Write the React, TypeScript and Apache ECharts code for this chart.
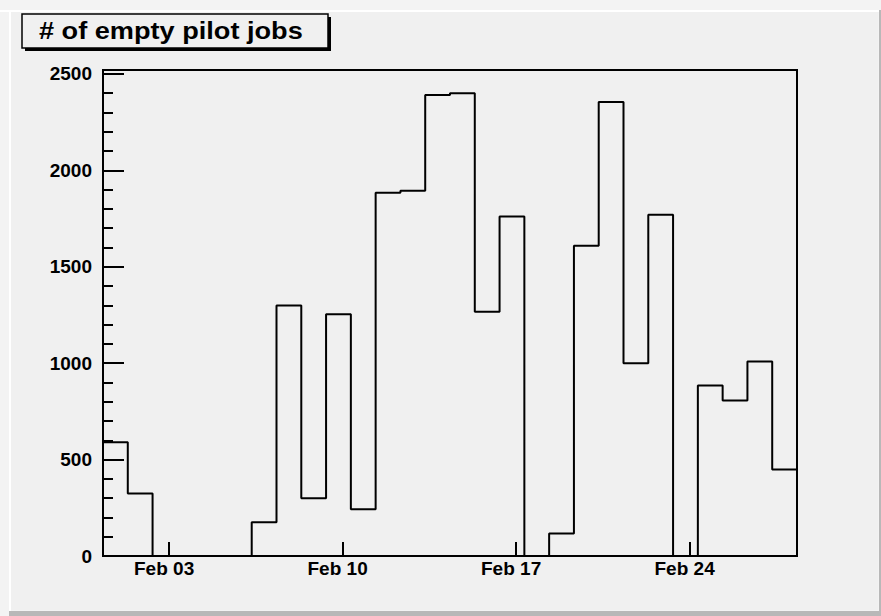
import React, { useEffect, useRef } from "react";
import * as echarts from "echarts";

// Daily counts of empty pilot jobs, one bin per day (28 bins)
const counts = [
  590, 324, 0, 0, 0, 0, 175, 1299, 300, 1253, 243, 1884, 1894, 2390,
  2400, 1266, 1761, 0, 117, 1609, 2354, 1000, 1770, 0, 884, 806, 1009, 449,
];

// Histogram range in days relative to Feb 01 00:00 (bins start at Jan 31 08:00)
const firstBinStart = -16 / 24;
const binWidthDays = 1;

// Date ticks: day offsets from Feb 01 and their labels
const dateTickDays = [2, 9, 16, 23];
const dateTickLabels = ["Feb 03", "Feb 10", "Feb 17", "Feb 24"];

// Y axis ticks
const yMax = 2520;
const yMajorTicks = [0, 500, 1000, 1500, 2000, 2500];
const yMinorTicks = [
  100, 200, 300, 400, 600, 700, 800, 900, 1100, 1200, 1300, 1400, 1600, 1700,
  1800, 1900, 2100, 2200, 2300, 2400,
];

const titleText = "# of empty pilot jobs";

const FONT = "'Liberation Sans', Arial, Helvetica, sans-serif";

export default function App() {
  const ref = useRef<HTMLDivElement>(null);

  useEffect(() => {
    if (!ref.current) return;
    const chart = echarts.init(ref.current, null, { renderer: "svg" });

    // Outline of the histogram: each bin contributes its top edge
    const outline: number[][] = [];
    counts.forEach((v, i) => {
      const x0 = firstBinStart + i * binWidthDays;
      outline.push([x0, v], [x0 + binWidthDays, v]);
    });
    outline.push([firstBinStart + counts.length * binWidthDays, 0]);

    const xMin = firstBinStart;
    const xMax = firstBinStart + counts.length * binWidthDays;

    chart.setOption({
      animation: false,
      backgroundColor: "#f3f3f3",
      grid: {
        left: 103,
        right: 84,
        top: 70,
        bottom: 60,
        show: true,
        borderColor: "#000",
        borderWidth: 2,
        backgroundColor: "transparent",
      },
      xAxis: {
        type: "value",
        min: xMin,
        max: xMax,
        splitLine: { show: false },
        axisLine: { onZero: false, lineStyle: { color: "#000", width: 2 } },
        axisTick: {
          inside: true,
          length: 14,
          customValues: dateTickDays,
          lineStyle: { color: "#000", width: 2 },
        },
        axisLabel: {
          customValues: dateTickDays,
          formatter: (v: number) => {
            const idx = dateTickDays.indexOf(Math.round(v));
            return idx >= 0 ? dateTickLabels[idx] : "";
          },
          color: "#000",
          fontFamily: FONT,
          fontWeight: "bold",
          fontSize: 19,
          margin: 3,
          padding: [0, 10, 0, 0],
        },
      },
      yAxis: [
        {
          type: "value",
          min: 0,
          max: yMax,
          position: "left",
          splitLine: { show: false },
          axisLine: { show: true, onZero: false, lineStyle: { color: "#000", width: 2 } },
          axisTick: {
            inside: true,
            length: 21,
            customValues: yMajorTicks,
            lineStyle: { color: "#000", width: 2 },
          },
          axisLabel: {
            customValues: yMajorTicks,
            formatter: (v: number) => String(v),
            color: "#000",
            fontFamily: FONT,
            fontWeight: "bold",
            fontSize: 19,
            margin: 11,
          },
        },
        {
          type: "value",
          min: 0,
          max: yMax,
          position: "left",
          offset: 0,
          splitLine: { show: false },
          axisLine: { show: false, onZero: false },
          axisLabel: { show: false },
          axisTick: {
            show: true,
            inside: true,
            length: 10,
            customValues: yMinorTicks,
            lineStyle: { color: "#000", width: 2 },
          },
        },
      ],
      series: [
        {
          type: "line",
          xAxisIndex: 0,
          yAxisIndex: 0,
          data: outline,
          symbol: "none",
          lineStyle: { color: "#000", width: 2 },
          z: 5,
        },
      ],
      graphic: [
        // canvas bevel
        { type: "rect", shape: { x: 0, y: 10, width: 881, height: 2 }, style: { fill: "#ffffff" }, silent: true },
        { type: "rect", shape: { x: 9, y: 10, width: 2, height: 606 }, style: { fill: "#ffffff" }, silent: true },
        { type: "rect", shape: { x: 11, y: 12, width: 867, height: 598 }, style: { fill: "#f0f0f0" }, silent: true, z: -10 },
        { type: "rect", shape: { x: 879, y: 10, width: 2, height: 606 }, style: { fill: "#b8b8b8" }, silent: true },
        { type: "rect", shape: { x: 9, y: 611, width: 872, height: 5 }, style: { fill: "#b8b8b8" }, silent: true },
        // title box with shadow
        { type: "rect", shape: { x: 25, y: 17, width: 306, height: 34 }, style: { fill: "#000" }, silent: true },
        {
          type: "rect",
          shape: { x: 22, y: 14, width: 306, height: 34 },
          style: { fill: "#f0f0f0", stroke: "#000", lineWidth: 1.5 },
          silent: true,
        },
        {
          type: "text",
          x: 39,
          y: 31,
          scaleX: 1.18,
          style: {
            text: titleText,
            fill: "#000",
            font: `bold 23px ${FONT}`,
            verticalAlign: "middle",
            align: "left",
          },
          silent: true,
        },
      ],
    });

    return () => chart.dispose();
  }, []);

  return (
    <div
      ref={ref}
      style={{ position: "fixed", left: 0, top: 0, width: 881, height: 616 }}
    />
  );
}
